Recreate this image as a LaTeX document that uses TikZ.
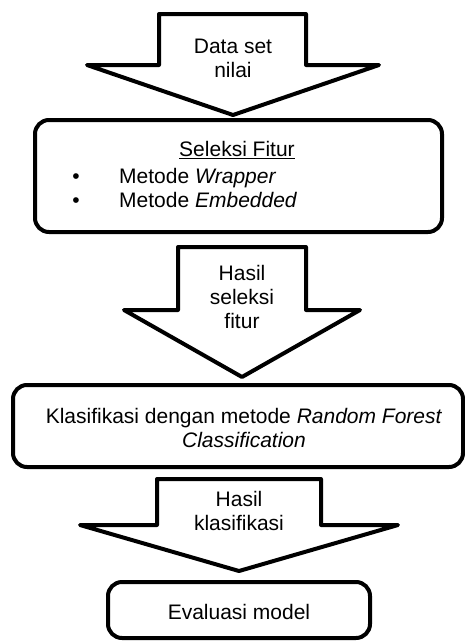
\documentclass[tikz,border=0pt]{standalone}
\usepackage{fontspec}
\setmainfont{Liberation Sans}
\usepackage{tikz}

\tikzset{
    kotak/.style={draw, line width=4pt, rounded corners=14pt, fill=white, inner sep=0pt},
    panah/.style={draw, line width=4pt, line join=round, fill=white},
    teks/.style={align=center, inner sep=0pt, font=\fontsize{21}{24}\selectfont}
}

\begin{document}
\begin{tikzpicture}[x=1pt, y=-1pt]
    \useasboundingbox (0,0) rectangle (465,641);

    % panah data set
    \draw[panah] (159,14) -- (306,14) -- (306,65) -- (379,65) -- (233,115) -- (87,65) -- (159,65) -- cycle;
    \node[teks] (dataset) at (233,58) {Data set\\nilai};

    % seleksi fitur
    \node[kotak, minimum width=407pt, minimum height=112pt] (seleksi) at (238.5,176) {};
    \node[teks] (judul) at (237,150) {\underline{Seleksi Fitur}};
    \node[teks, anchor=base] (titik1) at (76,183) {\textbullet};
    \node[teks, anchor=base west] (wrapper) at (119,183) {Metode \textit{Wrapper}};
    \node[teks, anchor=base] (titik2) at (76,207) {\textbullet};
    \node[teks, anchor=base west] (embedded) at (119,207) {Metode \textit{Embedded}};

    % panah hasil seleksi
    \draw[panah] (178,247) -- (306,247) -- (306,310) -- (360,310) -- (242,377) -- (124,310) -- (178,310) -- cycle;
    \node[teks] (hasilseleksi) at (242,297) {Hasil\\seleksi\\fitur};

    % klasifikasi
    \node[kotak, minimum width=450pt, minimum height=82pt] (klasifikasi) at (238,426) {};
    \node[teks] (rf) at (244,428) {Klasifikasi dengan metode \textit{Random Forest}\\\textit{Classification}};

    % panah hasil klasifikasi
    \draw[panah] (157,479) -- (321,479) -- (321,525) -- (398,525) -- (239,571) -- (80,525) -- (157,525) -- cycle;
    \node[teks] (hasilklas) at (239,511) {Hasil\\klasifikasi};

    % evaluasi
    \node[kotak, minimum width=262pt, minimum height=56pt] (evaluasi) at (239,610) {};
    \node[teks] (eval) at (239,612) {Evaluasi model};
\end{tikzpicture}
\end{document}
